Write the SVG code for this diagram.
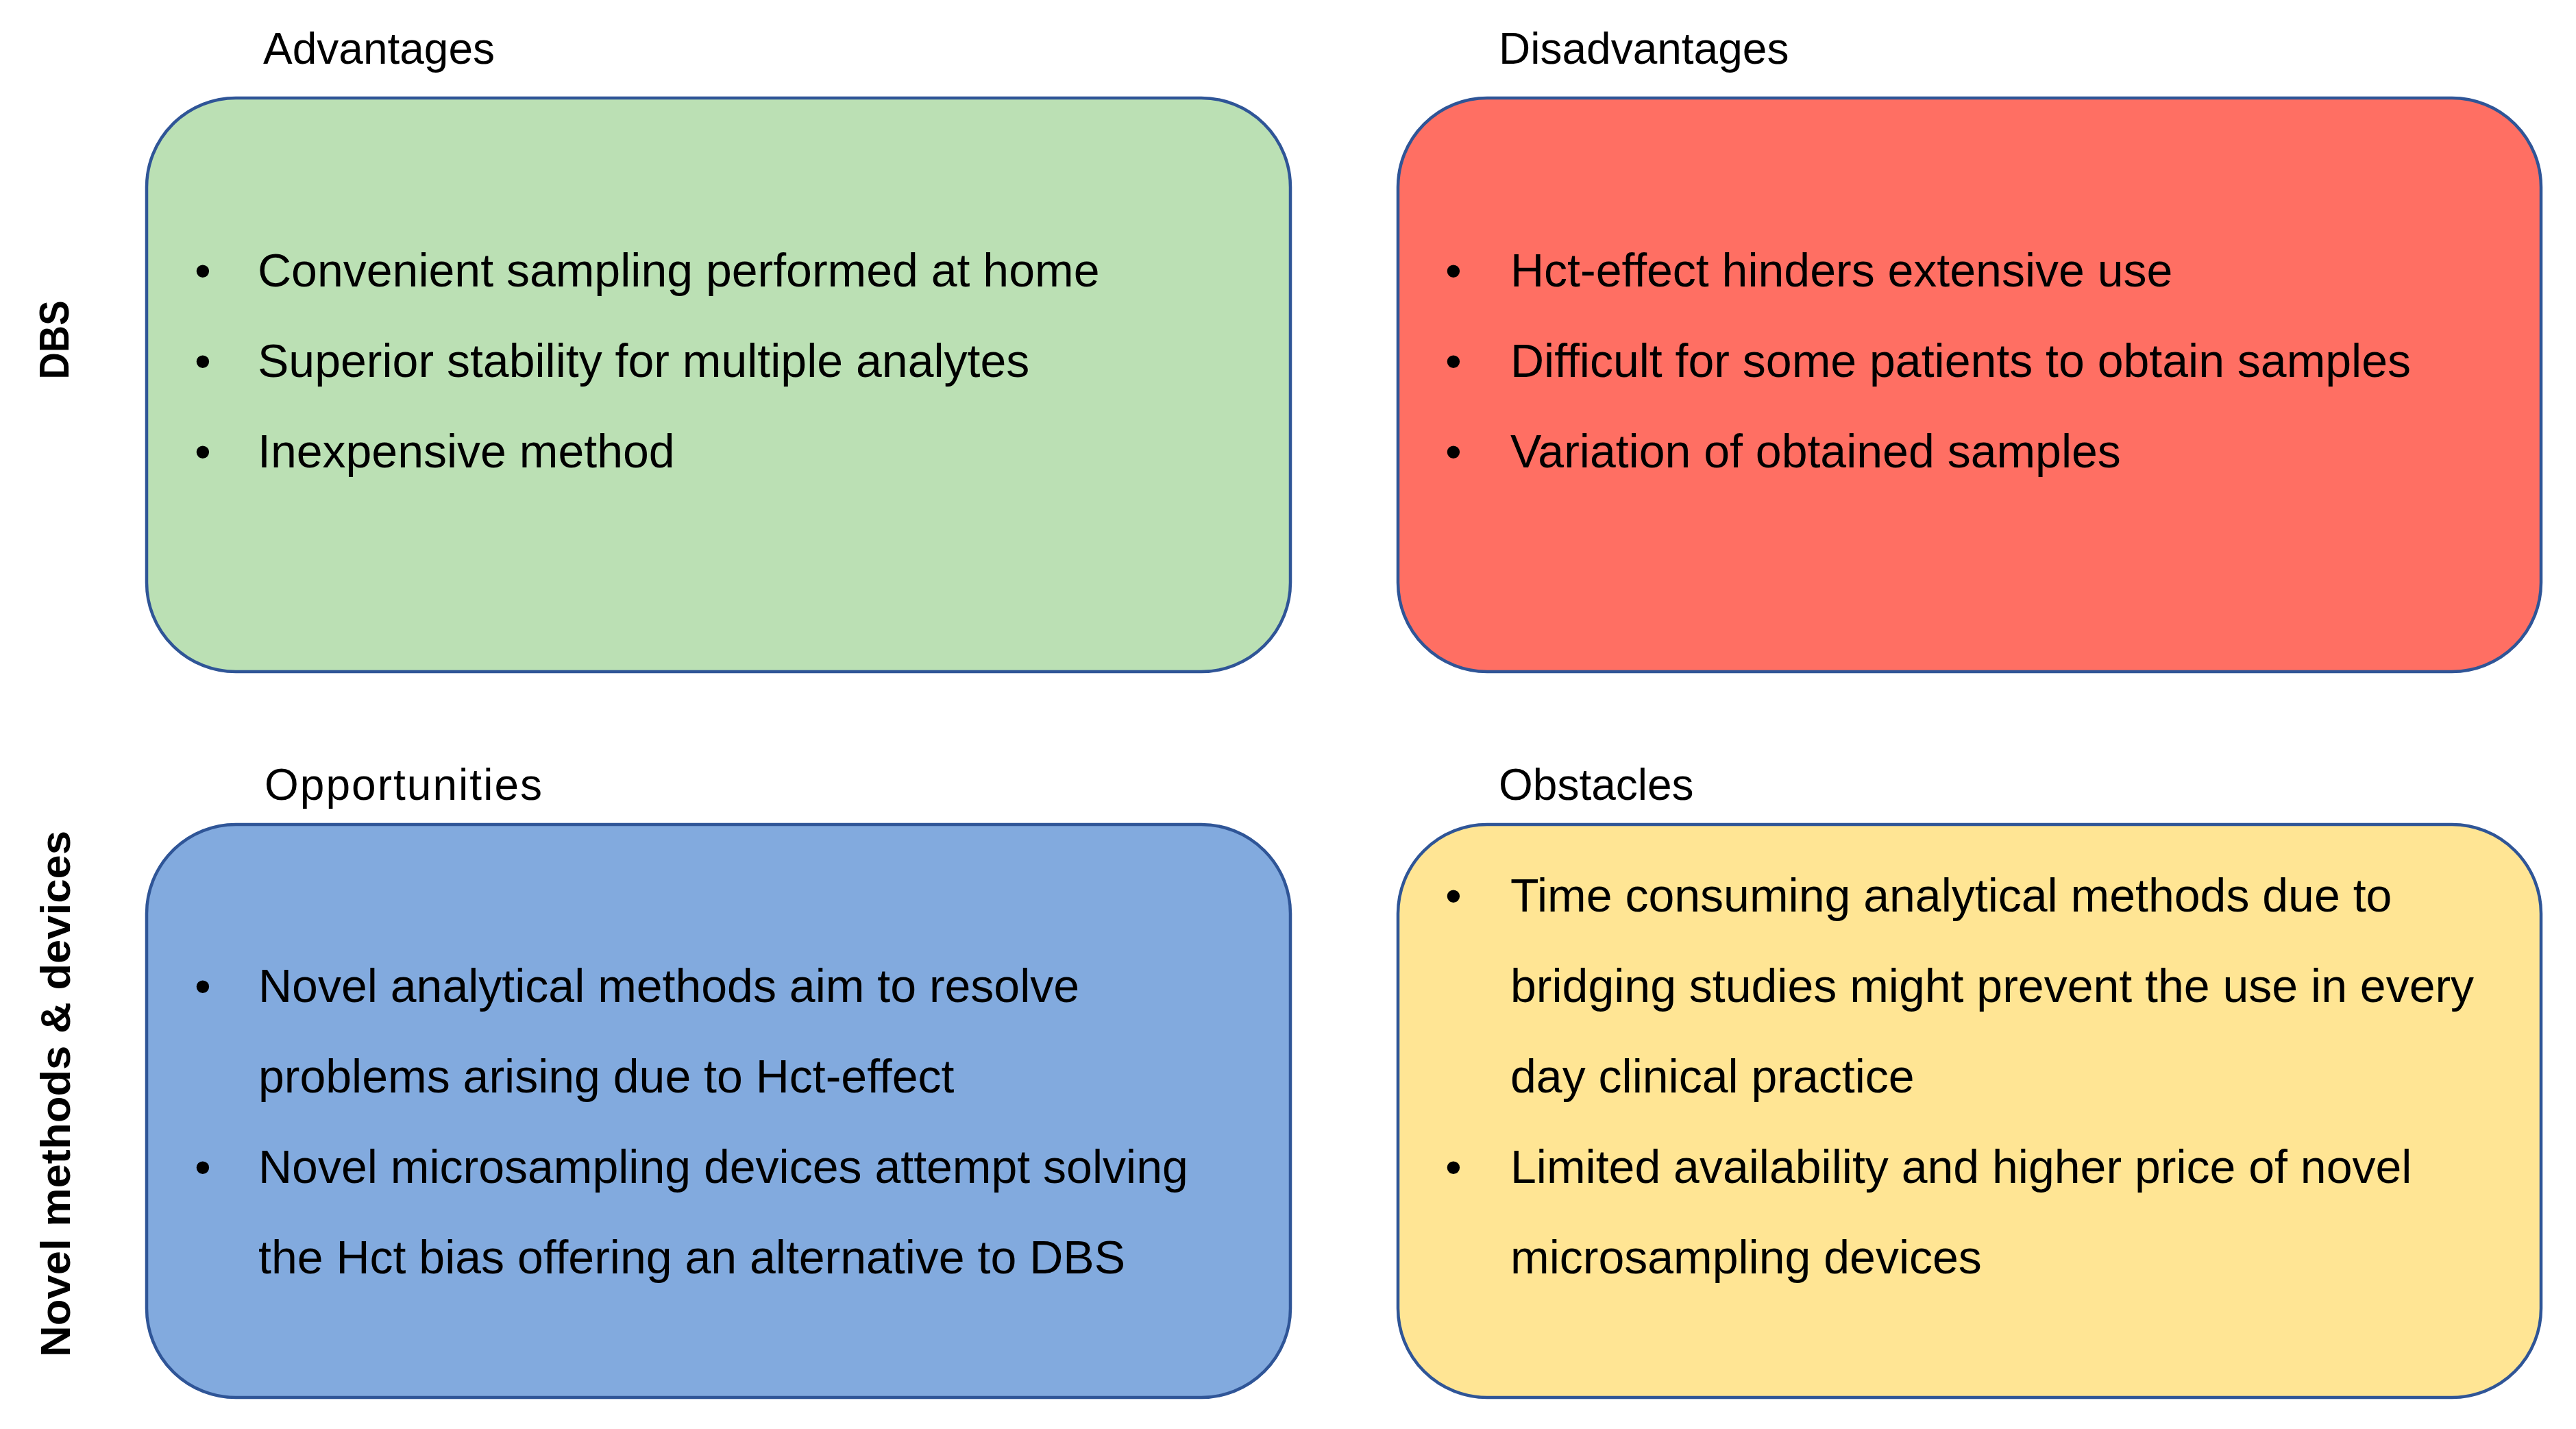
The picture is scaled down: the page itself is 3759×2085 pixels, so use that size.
<svg xmlns="http://www.w3.org/2000/svg" width="3759" height="2085" viewBox="0 0 3759 2085">
<style>
.box{stroke:#2F5597;stroke-width:4.5}
.hdr{font-family:"Liberation Sans",Arial,sans-serif;font-size:64px;fill:#000}
.txt{font-family:"Liberation Sans",Arial,sans-serif;font-size:68px;fill:#000}
.side{font-family:"Liberation Sans",Arial,sans-serif;font-size:62px;font-weight:bold;fill:#000}
</style>
<rect width="3759" height="2085" fill="#fff"/>
<g id="connectors"></g>
<g id="label-dbs">
<text class="side" transform="translate(100,496) rotate(-90)" text-anchor="middle" textLength="115" lengthAdjust="spacingAndGlyphs">DBS</text>
</g>
<g id="label-novel">
<text class="side" transform="translate(102,1596) rotate(-90)" text-anchor="middle" textLength="768" lengthAdjust="spacingAndGlyphs">Novel methods &amp; devices</text>
</g>
<g id="advantages">
<text class="hdr" x="384" y="93">Advantages</text>
<rect class="box" x="214" y="143" width="1669" height="837" rx="130" ry="130" fill="#BBE0B4"/>
<text class="txt" x="284" y="418">•</text>
<text class="txt" x="376" y="418">Convenient sampling performed at home</text>
<text class="txt" x="284" y="550">•</text>
<text class="txt" x="376" y="550">Superior stability for multiple analytes</text>
<text class="txt" x="284" y="682">•</text>
<text class="txt" x="376" y="682">Inexpensive method</text>
</g>
<g id="disadvantages">
<text class="hdr" x="2187" y="93">Disadvantages</text>
<rect class="box" x="2040" y="143" width="1668" height="837" rx="130" ry="130" fill="#FF6F63"/>
<text class="txt" x="2109" y="418">•</text>
<text class="txt" x="2204" y="418">Hct-effect hinders extensive use</text>
<text class="txt" x="2109" y="550">•</text>
<text class="txt" x="2204" y="550">Difficult for some patients to obtain samples</text>
<text class="txt" x="2109" y="682">•</text>
<text class="txt" x="2204" y="682">Variation of obtained samples</text>
</g>
<g id="opportunities">
<text class="hdr" x="386" y="1167" textLength="405" lengthAdjust="spacing">Opportunities</text>
<rect class="box" x="214" y="1203" width="1669" height="836" rx="130" ry="130" fill="#82AADE"/>
<text class="txt" x="284" y="1462">•</text>
<text class="txt" x="377" y="1462">Novel analytical methods aim to resolve</text>
<text class="txt" x="377" y="1594">problems arising due to Hct-effect</text>
<text class="txt" x="284" y="1726">•</text>
<text class="txt" x="377" y="1726">Novel microsampling devices attempt solving</text>
<text class="txt" x="377" y="1858">the Hct bias offering an alternative to DBS</text>
</g>
<g id="obstacles">
<text class="hdr" x="2187" y="1167">Obstacles</text>
<rect class="box" x="2040" y="1203" width="1668" height="836" rx="130" ry="130" fill="#FFE594"/>
<text class="txt" x="2109" y="1330">•</text>
<text class="txt" x="2204" y="1330">Time consuming analytical methods due to</text>
<text class="txt" x="2204" y="1462">bridging studies might prevent the use in every</text>
<text class="txt" x="2204" y="1594">day clinical practice</text>
<text class="txt" x="2109" y="1726">•</text>
<text class="txt" x="2204" y="1726">Limited availability and higher price of novel</text>
<text class="txt" x="2204" y="1858">microsampling devices</text>
</g>
</svg>
